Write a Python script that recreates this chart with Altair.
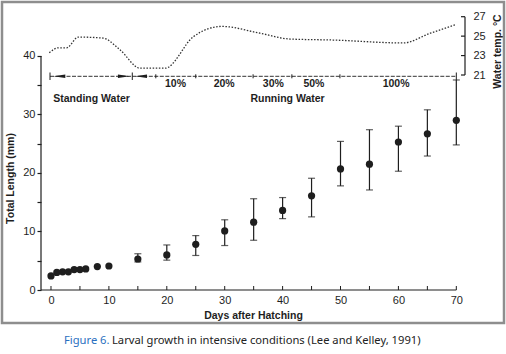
import altair as alt
import pandas as pd

# ---- data ----
days = [0, 1, 2, 3, 4, 5, 6, 8, 10, 15, 20, 25, 30, 35, 40, 45, 50, 55, 60, 65, 70]
length_mm = [2.4, 3.0, 3.1, 3.1, 3.5, 3.5, 3.6, 4.0, 4.1, 5.3, 6.0, 7.8, 10.1, 11.6,
             13.6, 16.1, 20.7, 21.5, 25.3, 26.7, 29.0]

err_days = [15, 20, 25, 30, 35, 40, 45, 50, 55, 60, 65, 70]
err_low = [4.8, 5.1, 5.9, 7.6, 8.5, 12.2, 12.5, 17.8, 17.1, 20.3, 22.9, 24.8]
err_high = [6.2, 7.7, 9.3, 12.0, 15.6, 15.8, 19.1, 25.4, 27.4, 28.0, 30.8, 35.9]

temp_days = [-0.3, 1.3, 2.7, 4.7, 9.0, 11.9, 15.4, 19.7, 24.6, 29.5, 36.1, 41.3, 48.7, 60.8, 65.5, 70.0]
temp_c = [23.3, 23.8, 23.8, 24.9, 24.8, 23.6, 21.7, 21.7, 24.95, 26.0, 25.3, 24.7, 24.6, 24.3, 25.3, 26.2]
temp_ticks = [21, 23, 25, 27]

x_ticks = [0, 10, 20, 30, 40, 50, 60, 70]
x_minor = list(range(0, 75, 5))
y_ticks = list(range(0, 45, 5))

# water regime annotation
segment_start = [-0.17, 14.04]
segment_end = [14.04, 70.0]
regime_bars = [-0.17, 14.04, 70.0]
flow_steps = [18.1, 25.0, 34.9, 41.6, 49.9]
flow_labels = ["10%", "20%", "30%", "50%", "100%"]
flow_label_days = [21.5, 29.9, 38.4, 45.4, 59.6]
regime_names = ["Standing Water", "Running Water"]
regime_name_days = [7.0, 40.85]
arrow_days = [1.44, 12.6, 15.54]
arrow_dirs = ["left", "right", "left"]

FONT = "Liberation Sans"
INK = "#1e1e1e"

xs = alt.Scale(domain=[-1.727, 71.5], nice=False, zero=False)
ys = alt.Scale(domain=[0, 47.86], nice=False, zero=False)
ts = alt.Scale(domain=[-1.126, 27.69], nice=False, zero=False)

X_AX = alt.Axis(
    values=x_ticks, ticks=False, domain=False, labelPadding=4, labelFlush=False,
    labelFont=FONT, labelFontSize=11, labelColor=INK, grid=False,
    title="Days after Hatching", titleFont=FONT, titleFontSize=10.5, titleFontWeight="bold",
    titleColor=INK, titlePadding=5)
Y_AX = alt.Axis(
    values=y_ticks, labelExpr="datum.value % 10 == 0 ? datum.label : ''",
    tickSize=4, tickColor=INK, tickWidth=1.2, domain=False, labelPadding=2, labelFlush=False,
    labelFont=FONT, labelFontSize=11, labelColor=INK, grid=False,
    title="Total Length (mm)", titleFont=FONT, titleFontSize=10.5, titleFontWeight="bold",
    titleColor=INK, titleAngle=270, titleX=-31, titleY=168, titleAlign="center",
    titleBaseline="middle")
T_AX = alt.Axis(
    orient="right", values=temp_ticks, ticks=False, domain=False, labelPadding=8,
    labelFont=FONT, labelFontSize=11, labelColor=INK, labelFlush=False, grid=False,
    title="Water temp. °C", titleFont=FONT, titleFontSize=10.5, titleFontWeight="bold",
    titleColor=INK, titleAngle=270, titleX=32, titleY=41, titleAlign="center",
    titleBaseline="middle")

pts = pd.DataFrame({"day": days, "len": length_mm})
errs = pd.DataFrame({"day": err_days, "lo": err_low, "hi": err_high})
temp = pd.DataFrame({"day": temp_days, "t": temp_c})


def X(f):
    return alt.X(f, scale=xs, axis=X_AX)


def Y(f):
    return alt.Y(f, scale=ys, axis=Y_AX)


def T(f):
    return alt.Y(f, scale=ts, axis=T_AX)


# frame
frame = alt.Chart(pd.DataFrame({"a": [0]})).mark_rect(
    filled=False, stroke="#8e8e8e", strokeWidth=2.5
).encode(x=alt.value(-39), x2=alt.value(463), y=alt.value(-8), y2=alt.value(313))

# axis lines
yline = alt.Chart(pd.DataFrame({"y0": [0], "y1": [40]})).mark_rule(color=INK, strokeWidth=1.2).encode(
    x=alt.value(0), y=Y("y0:Q"), y2="y1:Q")
xline = alt.Chart(pd.DataFrame({"x0": [-1.727], "x1": [70]})).mark_rule(color=INK, strokeWidth=1.2).encode(
    x=X("x0:Q"), x2="x1:Q", y=alt.value(280))
xtick = alt.Chart(pd.DataFrame({"d": x_minor})).mark_rule(color=INK, strokeWidth=1).encode(
    x=X("d:Q"), y=alt.value(280), y2=alt.value(276))

# error bars
ebar = alt.Chart(errs).mark_rule(color=INK, strokeWidth=1.2).encode(
    x=X("day:Q"), y=Y("lo:Q"), y2="hi:Q")
cap_lo = alt.Chart(errs).mark_tick(color=INK, orient="horizontal", size=7, thickness=1.2).encode(
    x=X("day:Q"), y=Y("lo:Q"))
cap_hi = alt.Chart(errs).mark_tick(color=INK, orient="horizontal", size=7, thickness=1.2).encode(
    x=X("day:Q"), y=Y("hi:Q"))

points = alt.Chart(pts).mark_circle(color=INK, size=52, opacity=1).encode(
    x=X("day:Q"), y=Y("len:Q"))

# water regime annotation
seg = alt.Chart(pd.DataFrame({"a": segment_start, "b": segment_end})).mark_rule(
    color="#333", strokeWidth=1, strokeDash=[4, 1.5]).encode(
    x=X("a:Q"), x2="b:Q", y=alt.value(66.3))
bars = alt.Chart(pd.DataFrame({"d": regime_bars})).mark_rule(color=INK, strokeWidth=1).encode(
    x=X("d:Q"), y=alt.value(62.5), y2=alt.value(70))
steps = alt.Chart(pd.DataFrame({"d": flow_steps})).mark_rule(color=INK, strokeWidth=1).encode(
    x=X("d:Q"), y=alt.value(64.3), y2=alt.value(68.3))
arrows = alt.Chart(pd.DataFrame({"d": arrow_days, "dir": arrow_dirs})).mark_point(
    filled=True, color=INK, opacity=1, size=144).encode(
    x=X("d:Q"), y=alt.value(66.3),
    shape=alt.Shape("dir:N", scale=alt.Scale(
        domain=["left", "right"],
        range=["M -1 0 L 1 -0.3 L 1 0.3 Z", "M 1 0 L -1 -0.3 L -1 0.3 Z"]), legend=None))
pct = alt.Chart(pd.DataFrame({"d": flow_label_days, "t": flow_labels})).mark_text(
    font=FONT, fontSize=10.5, fontWeight="bold", color=INK, baseline="middle").encode(
    x=X("d:Q"), y=alt.value(73.5), text="t:N")
names = alt.Chart(pd.DataFrame({"d": regime_name_days, "t": regime_names})).mark_text(
    font=FONT, fontSize=10.5, fontWeight="bold", color=INK, baseline="middle").encode(
    x=X("d:Q"), y=alt.value(89.3), text="t:N")

cap1 = alt.Chart(pd.DataFrame({"a": [0]})).mark_text(
    text="Figure 6.", font="Noto Sans", fontSize=11.2, color="#2a6fc0", align="left", baseline="middle"
).encode(x=alt.value(23), y=alt.value(331))
cap2 = alt.Chart(pd.DataFrame({"a": [0]})).mark_text(
    text="Larval growth in intensive conditions (Lee and Kelley, 1991)", font="Noto Sans",
    fontSize=11.2, color="#222222", align="left", baseline="middle"
).encode(x=alt.value(71), y=alt.value(331))

main = alt.layer(frame, yline, xline, xtick, ebar, cap_lo, cap_hi, points,
                 seg, bars, steps, arrows, pct, names, cap1, cap2)

# temperature panel
tline = alt.Chart(temp).mark_line(
    color="#333", strokeWidth=1.3, strokeDash=[1.5, 1.6], interpolate="monotone").encode(
    x=X("day:Q"), y=T("t:Q"))
taxis = alt.Chart(pd.DataFrame({"a": [21], "b": [27]})).mark_rule(color=INK, strokeWidth=1.2).encode(
    x=alt.value(424), y=T("a:Q"), y2="b:Q")
tticks = alt.Chart(pd.DataFrame({"t": temp_ticks})).mark_rule(color=INK, strokeWidth=1.2).encode(
    x=alt.value(420), x2=alt.value(424), y=T("t:Q"))
tpanel = alt.layer(tline, taxis, tticks)

chart = alt.layer(main, tpanel).resolve_scale(y="independent").properties(
    width=424, height=280,
    autosize=alt.AutoSizeParams(type="none"),
    padding={"left": 41, "top": 10, "right": 41, "bottom": 64},
    background="white",
).configure_view(stroke=None).configure_axis(grid=False)

chart.save("out.html", embed_options={"renderer": "svg", "actions": False})
